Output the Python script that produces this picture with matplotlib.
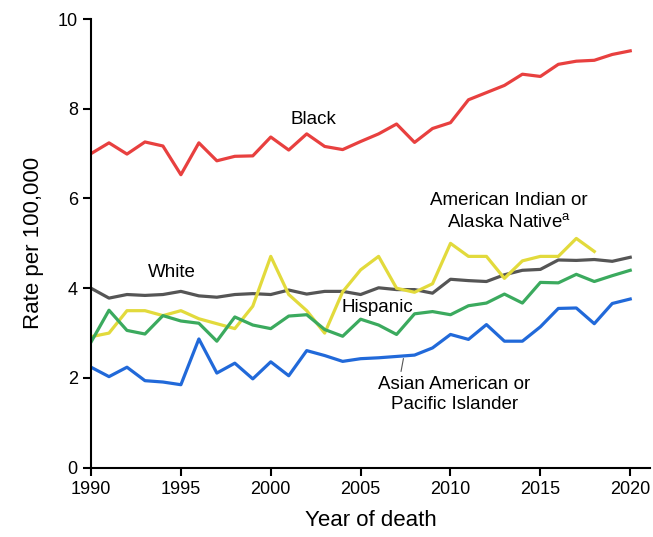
import numpy as np
import matplotlib
matplotlib.use("Agg")
import matplotlib.pyplot as plt

plt.rcParams["font.family"] = ["Liberation Sans", "DejaVu Sans"]

# Death rates per 100,000 by race and ethnicity
years = np.arange(1990, 2021)
black = [7.00, 7.24, 6.99, 7.26, 7.17, 6.53, 7.24, 6.84, 6.94, 6.95,
         7.37, 7.08, 7.44, 7.16, 7.09, 7.27, 7.44, 7.66, 7.25, 7.56,
         7.69, 8.20, 8.36, 8.52, 8.77, 8.72, 8.99, 9.06, 9.08, 9.21, 9.29]
white = [4.00, 3.78, 3.86, 3.84, 3.86, 3.93, 3.83, 3.80, 3.86, 3.88,
         3.86, 3.96, 3.87, 3.93, 3.93, 3.86, 4.01, 3.97, 3.97, 3.89,
         4.20, 4.17, 4.15, 4.30, 4.40, 4.42, 4.63, 4.62, 4.64, 4.60, 4.69]
aian_years = np.arange(1990, 2019)
aian = [2.92, 3.00, 3.50, 3.50, 3.39, 3.50, 3.32, 3.21, 3.10, 3.60,
        4.71, 3.86, 3.50, 3.00, 3.92, 4.41, 4.71, 4.00, 3.91, 4.10,
        5.00, 4.71, 4.71, 4.22, 4.61, 4.71, 4.71, 5.11, 4.82]
hispanic = [2.80, 3.51, 3.06, 2.98, 3.39, 3.27, 3.22, 2.82, 3.36, 3.18,
            3.10, 3.38, 3.41, 3.08, 2.93, 3.31, 3.18, 2.97, 3.43, 3.48,
            3.41, 3.61, 3.67, 3.87, 3.67, 4.13, 4.12, 4.31, 4.15, 4.28, 4.40]
aapi = [2.24, 2.03, 2.24, 1.94, 1.91, 1.85, 2.87, 2.11, 2.33, 1.98,
        2.36, 2.05, 2.61, 2.50, 2.37, 2.43, 2.45, 2.48, 2.51, 2.67,
        2.97, 2.86, 3.19, 2.82, 2.82, 3.14, 3.55, 3.56, 3.21, 3.66, 3.76]

fig = plt.figure(figsize=(6.53, 5.37), dpi=100)
ax = fig.add_axes([0.1394, 0.129, 0.8560, 0.8356])

lw = 2.3
ax.plot(years, black, color="#E8403F", lw=lw)
ax.plot(years, white, color="#555555", lw=lw)
ax.plot(aian_years, aian, color="#E2DA3C", lw=lw)
ax.plot(years, hispanic, color="#3BAA5E", lw=lw)
ax.plot(years, aapi, color="#2169D9", lw=lw)

# series labels placed next to their lines
fs = 13.5
ax.text(2002.4, 7.76, "Black", fontsize=fs, ha="center", va="center")
ax.text(1994.5, 4.36, "White", fontsize=fs, ha="center", va="center")
ax.text(2005.95, 3.57, "Hispanic", fontsize=fs, ha="center", va="center")
ax.text(2013.25, 5.70, "American Indian or\nAlaska Native$^{\\mathregular{a}}$",
        fontsize=fs, ha="center", va="center", linespacing=1.25)
ax.text(2010.2, 1.63, "Asian American or\nPacific Islander",
        fontsize=fs, ha="center", va="center", linespacing=1.25)
ax.plot([2007.38, 2007.25], [2.43, 2.15], color="#555555", lw=0.8)

ax.set_xlim(1990, 2021.1)
ax.set_ylim(0, 10)
ax.set_xticks(range(1990, 2021, 5))
ax.set_yticks(range(0, 11, 2))
ax.set_xlabel("Year of death", fontsize=16, labelpad=9)
ax.set_ylabel("Rate per 100,000", fontsize=16, labelpad=10)

for s in ["top", "right"]:
    ax.spines[s].set_visible(False)
for s in ["left", "bottom"]:
    ax.spines[s].set_linewidth(1.5)
ax.tick_params(axis="both", labelsize=13, width=1.5, length=6, direction="out")

fig.savefig("out.png", dpi=100)
